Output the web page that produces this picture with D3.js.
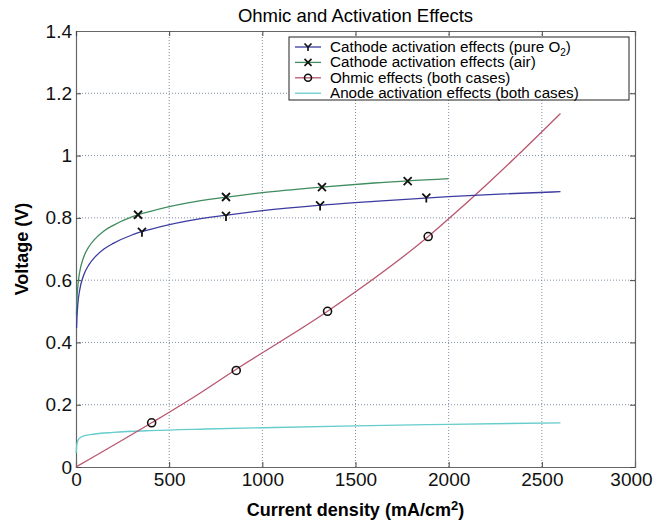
<!DOCTYPE html>
<html>
<head>
<meta charset="utf-8">
<script src="https://cdn.jsdelivr.net/npm/d3@7"></script>
<style>
  body { margin: 0; background: #fff; }
  svg { font-family: "Liberation Sans", Arial, sans-serif; }
</style>
</head>
<body>
<div id="chart"></div>
<script>
// values
const pureO2X = [3, 5, 10, 20, 40, 70, 100, 150, 200, 300, 400, 600, 800, 1000, 1300, 1600, 2000, 2300, 2600];
const pureO2Y = [0.446, 0.479, 0.524, 0.569, 0.614, 0.65, 0.673, 0.7, 0.718, 0.745, 0.763, 0.79, 0.808, 0.823, 0.84, 0.853, 0.868, 0.877, 0.884];
const pureO2MarkX = [354, 805, 1310, 1880];
const pureO2MarkY = [0.755, 0.806, 0.84, 0.865];

const airX = [2.5, 5, 10, 20, 40, 70, 100, 150, 200, 300, 400, 600, 800, 1000, 1300, 1600, 2000];
const airY = [0.49, 0.537, 0.582, 0.627, 0.672, 0.708, 0.731, 0.758, 0.776, 0.803, 0.821, 0.848, 0.866, 0.881, 0.898, 0.912, 0.926];
const airMarkX = [333, 805, 1320, 1780];
const airMarkY = [0.81, 0.867, 0.899, 0.918];

const ohmicX = [0, 406, 665, 850, 1350, 1900, 2000, 2200, 2400, 2600];
const ohmicY = [0, 0.142, 0.237, 0.31, 0.5, 0.745, 0.797, 0.905, 1.018, 1.135];
const ohmicMarkX = [406, 860, 1350, 1890];
const ohmicMarkY = [0.142, 0.31, 0.5, 0.74];

const anodeX = [1, 5, 15, 40, 100, 200, 400, 700, 1000, 1500, 2000, 2600];
const anodeY = [0.045, 0.075, 0.09, 0.1, 0.106, 0.111, 0.117, 0.122, 0.126, 0.132, 0.137, 0.142];

const xTicks = [0, 500, 1000, 1500, 2000, 2500, 3000];
const yTicks = [0, 0.2, 0.4, 0.6, 0.8, 1, 1.2, 1.4];

const width = 653, height = 525;
const plotL = 76, plotR = 635, plotT = 31, plotB = 467;

const svg = d3.select("#chart").append("svg")
  .attr("width", width)
  .attr("height", height);

const x = d3.scaleLinear().domain([0, 3000]).range([plotL, plotR]);
const y = d3.scaleLinear().domain([0, 1.4]).range([plotB, plotT]);

// grid
const grid = svg.append("g").attr("class", "grid");
grid.selectAll("line.v")
  .data(xTicks.slice(1, -1))
  .enter().append("line")
  .attr("x1", d => x(d)).attr("x2", d => x(d))
  .attr("y1", plotT).attr("y2", plotB)
  .style("stroke", "#7f8fa6").style("stroke-dasharray", "1,2");
grid.selectAll("line.h")
  .data(yTicks.slice(1, -1))
  .enter().append("line")
  .attr("x1", plotL).attr("x2", plotR)
  .attr("y1", d => y(d)).attr("y2", d => y(d))
  .style("stroke", "#7f8fa6").style("stroke-dasharray", "1,2");

// axes
svg.append("g")
  .attr("transform", `translate(0,${plotB})`)
  .call(d3.axisBottom(x).tickValues(xTicks).tickFormat(d3.format("d")).tickSize(-5).tickPadding(6));
svg.append("g")
  .attr("transform", `translate(${plotL},0)`)
  .call(d3.axisLeft(y).tickValues(yTicks).tickFormat(d => d3.format("~g")(d)).tickSize(-5).tickPadding(4));
svg.append("g")
  .attr("transform", `translate(0,${plotT})`)
  .call(d3.axisTop(x).tickValues(xTicks).tickFormat("").tickSize(-5));
svg.append("g")
  .attr("transform", `translate(${plotR},0)`)
  .call(d3.axisRight(y).tickValues(yTicks).tickFormat("").tickSize(-5));

svg.selectAll(".domain").style("stroke", "#666").style("stroke-width", 1.2);
svg.selectAll(".tick line").style("stroke", "#444");
svg.selectAll(".tick text").style("font-size", "19px").style("fill", "#111")
  .style("font-family", "'Liberation Sans', Arial, sans-serif");
// last x label sits a little in so it is not cut off
svg.selectAll(".tick text").filter(d => d === 3000).attr("dx", -4);

const line = d3.line().x(d => x(d[0])).y(d => y(d[1])).curve(d3.curveMonotoneX);

function drawSeries(xs, ys, color) {
  svg.append("path")
    .datum(d3.zip(xs, ys))
    .attr("d", line)
    .style("fill", "none")
    .style("stroke", color)
    .style("stroke-width", 1.3);
}

drawSeries(anodeX, anodeY, "#66cccc");
drawSeries(ohmicX, ohmicY, "#b8566e");
drawSeries(airX, airY, "#3f8c5e");
drawSeries(pureO2X, pureO2Y, "#3b3ba0");

const markY = "M-4,-4L0,0L4,-4M0,0L0,5";
const markX = "M-4,-4L4,4M4,-4L-4,4";

function drawMarks(xs, ys, shape) {
  const g = svg.append("g");
  d3.zip(xs, ys).forEach(([a, b]) => {
    if (shape === "o") {
      g.append("circle").attr("cx", x(a)).attr("cy", y(b)).attr("r", 4)
        .style("fill", "none").style("stroke", "#111").style("stroke-width", 1.6);
    } else {
      g.append("path").attr("transform", `translate(${x(a)},${y(b)})`)
        .attr("d", shape === "x" ? markX : markY)
        .style("fill", "none").style("stroke", "#111").style("stroke-width", 1.8);
    }
  });
}
drawMarks(pureO2MarkX, pureO2MarkY, "y");
drawMarks(airMarkX, airMarkY, "x");
drawMarks(ohmicMarkX, ohmicMarkY, "o");

// title and axis labels
svg.append("text")
  .attr("x", (plotL + plotR) / 2).attr("y", 22)
  .attr("text-anchor", "middle")
  .style("font-size", "18.5px")
  .text("Ohmic and Activation Effects");

const xl = svg.append("text")
  .attr("x", (plotL + plotR) / 2).attr("y", 516)
  .attr("text-anchor", "middle")
  .style("font-size", "18px").style("font-weight", "bold");
xl.append("tspan").text("Current density (mA/cm");
xl.append("tspan").attr("dy", -6).style("font-size", "13px").text("2");
xl.append("tspan").attr("dy", 6).text(")");

svg.append("text")
  .attr("transform", `translate(28,${(plotT + plotB) / 2}) rotate(-90)`)
  .attr("text-anchor", "middle")
  .style("font-size", "18px").style("font-weight", "bold")
  .text("Voltage (V)");

// legend
const legend = svg.append("g");
legend.append("rect")
  .attr("x", 289).attr("y", 37).attr("width", 340).attr("height", 63)
  .style("fill", "#fff").style("stroke", "#222").style("stroke-width", 1);

const legendNames = ["Cathode activation effects (pure O", "Cathode activation effects (air)", "Ohmic effects (both cases)", "Anode activation effects (both cases)"];
const legendColors = ["#3b3ba0", "#3f8c5e", "#b8566e", "#66cccc"];
const legendShapes = ["y", "x", "o", ""];

legendNames.forEach((name, i) => {
  const cy = 47 + i * 15.4;
  legend.append("line")
    .attr("x1", 295).attr("x2", 321).attr("y1", cy).attr("y2", cy)
    .style("stroke", legendColors[i]).style("stroke-width", 1.3);
  if (legendShapes[i] === "o") {
    legend.append("circle").attr("cx", 308).attr("cy", cy).attr("r", 3.5)
      .style("fill", "none").style("stroke", "#111").style("stroke-width", 1.6);
  } else if (legendShapes[i]) {
    legend.append("path").attr("transform", `translate(308,${cy})`)
      .attr("d", legendShapes[i] === "x" ? "M-3.5,-3.5L3.5,3.5M3.5,-3.5L-3.5,3.5" : "M-3.5,-3.5L0,0L3.5,-3.5M0,0L0,4")
      .style("fill", "none").style("stroke", "#111").style("stroke-width", 1.6);
  }
  const t = legend.append("text")
    .attr("x", 330).attr("y", cy + 5)
    .style("font-size", "15.2px")
    .text(name);
  if (i === 0) {
    t.append("tspan").attr("dy", 4).style("font-size", "10px").text("2");
    t.append("tspan").attr("dy", -4).text(")");
  }
});
</script>
</body>
</html>
